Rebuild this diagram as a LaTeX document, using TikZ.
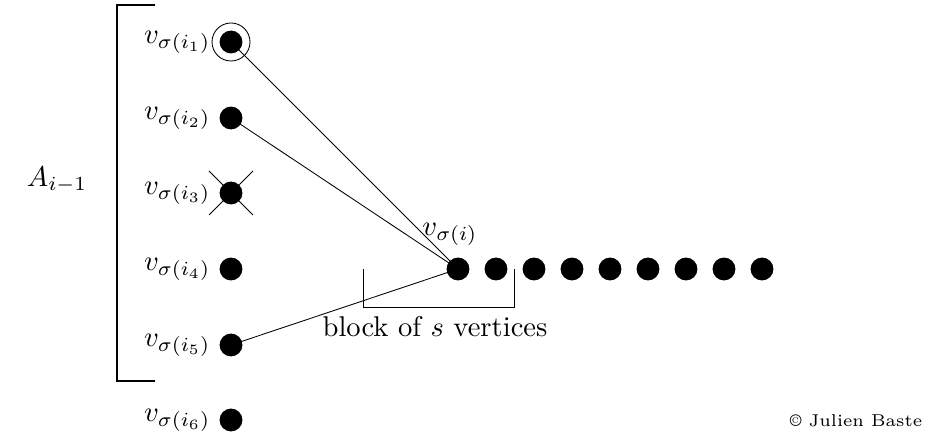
\documentclass[tikz,border=0pt]{standalone}
\begin{document}
\begin{tikzpicture}[x=0.35pt,y=-0.35pt,
  vert/.style={circle,fill=black,inner sep=0pt,minimum size=8pt},
  lab/.style={anchor=east,inner sep=0pt},
  ln/.style={line width=0.3pt}]
\useasboundingbox (0,0) rectangle (929,436);
% left column
\foreach \n/\y in {1/42,2/118,3/193,4/269,5/345,6/420}{
  \node[vert] (v\n) at (231,\y) {};
  \node[lab] (l\n) at (211,\y) {$v_{\sigma(i_{\n})}$};
}
% row
\foreach \n/\x in {0/458,1/496,2/534,3/572,4/610,5/648,6/686,7/724,8/762}{
  \node[vert] (w\n) at (\x,269) {};
}
% circle around top
\node[circle,draw,ln,inner sep=0pt,minimum size=13.3pt] (c1) at (v1) {};
% cross
\coordinate (x1) at (209,171); \coordinate (x2) at (253,215);
\coordinate (x3) at (253,171); \coordinate (x4) at (209,215);
\draw[ln] (x1) -- (x2);
\draw[ln] (x3) -- (x4);
% edges
\draw[ln] (v1.center) -- (w0.center);
\draw[ln] (v2.center) -- (w0.center);
\draw[ln] (v5.center) -- (w0.center);
% bracket
\coordinate (b1) at (155,5); \coordinate (b2) at (117,5);
\coordinate (b3) at (117,381); \coordinate (b4) at (155,381);
\draw[line width=0.4pt] (b1) -- (b2) -- (b3) -- (b4);
\node (A) at (57,180) {$A_{i-1}$};
% block brace
\coordinate (k1) at (363,269); \coordinate (k2) at (363,307);
\coordinate (k3) at (514,307); \coordinate (k4) at (514,269);
\draw[ln] (k1) -- (k2) -- (k3) -- (k4);
\node (blk) at (435,327) {block of $s$ vertices};
\node[anchor=south,inner sep=0pt] (vs) at (450,246) {$v_{\sigma(i)}$};
\node (cp) at (856,421) {\fontsize{6}{7}\selectfont\textcopyright\ Julien Baste};
\end{tikzpicture}
\end{document}
